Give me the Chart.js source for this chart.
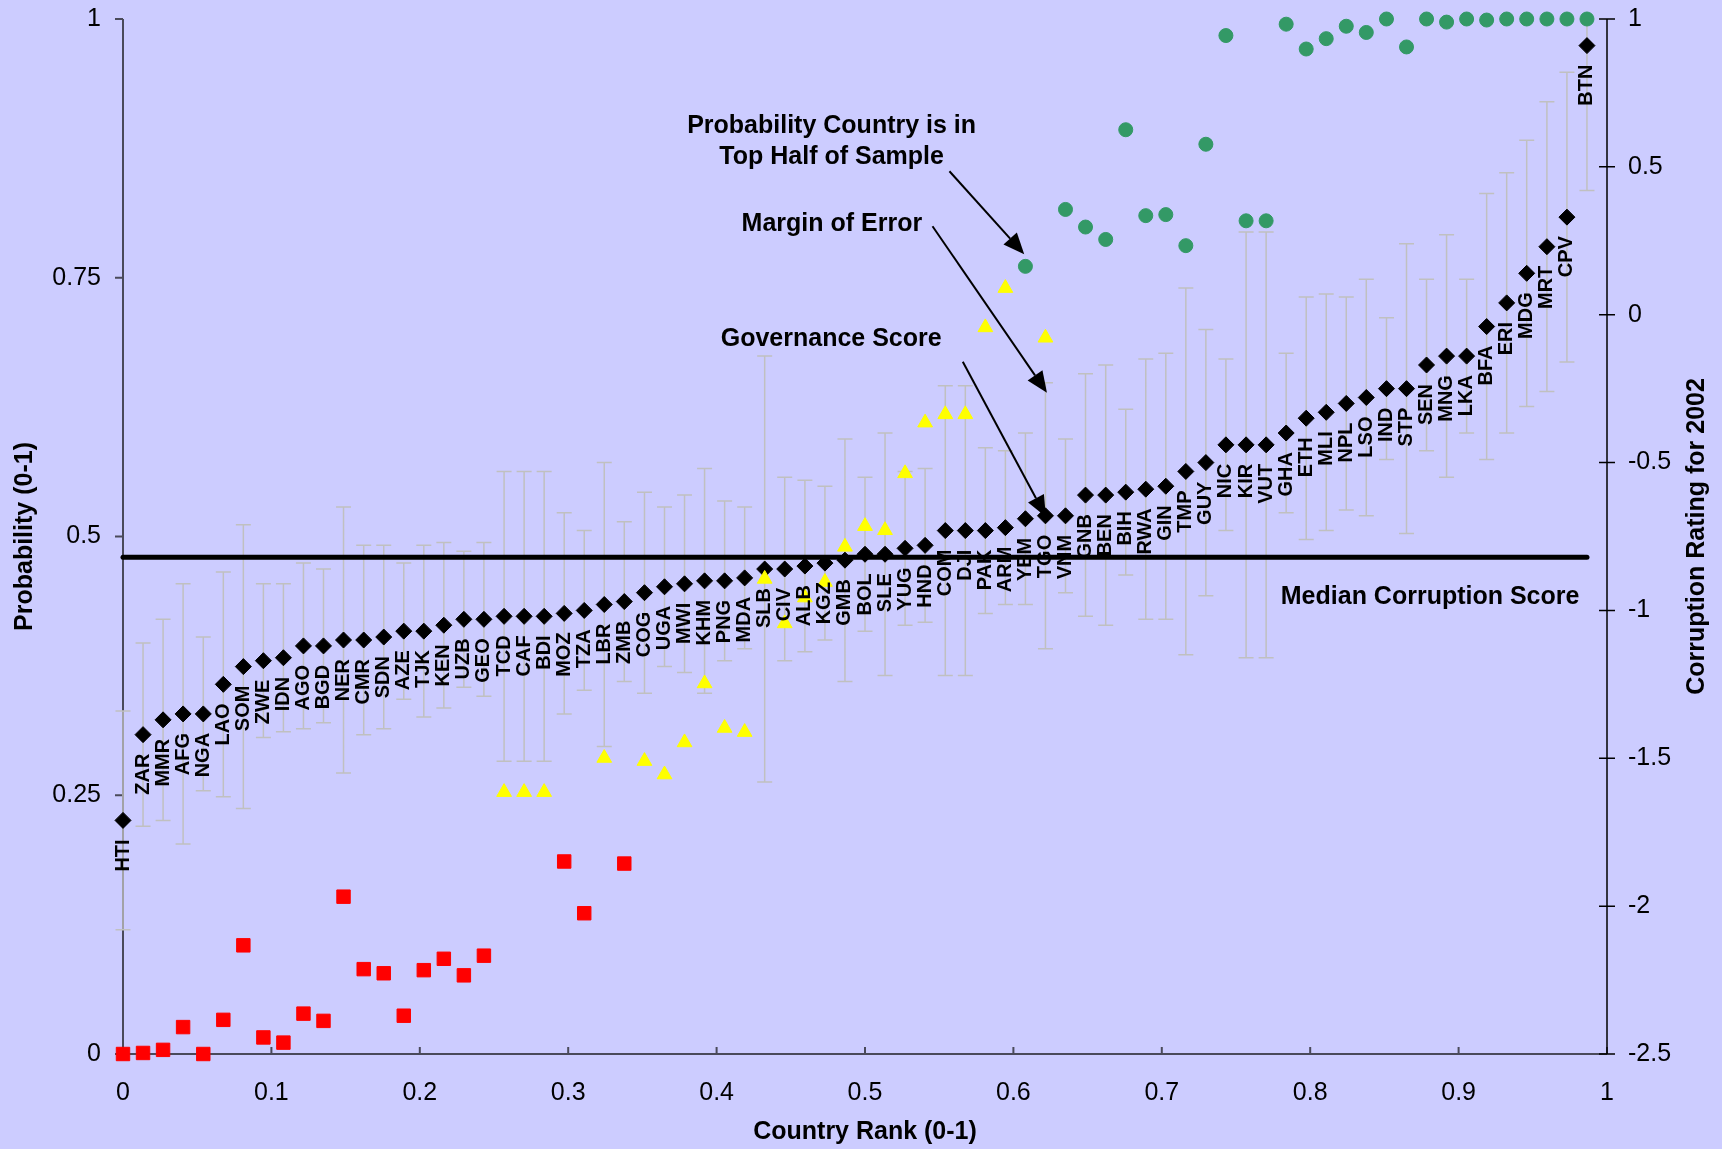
<!DOCTYPE html>
<html>
<head>
<meta charset="utf-8">
<script src="https://cdn.jsdelivr.net/npm/chart.js@4.4.1/dist/chart.umd.min.js"></script>
<style>
  html, body { margin: 0; padding: 0; background: #ccccff; }
  #wrap { width: 1722px; height: 1149px; }
</style>
</head>
<body>
<div id="wrap"><canvas id="chart" width="1722" height="1149"></canvas></div>
<script>
// country codes, ordered by rank
const countries = [
  "HTI", "ZAR", "MMR", "AFG", "NGA", "LAO", "SOM", "ZWE", "IDN", "AGO",
  "BGD", "NER", "CMR", "SDN", "AZE", "TJK", "KEN", "UZB", "GEO", "TCD",
  "CAF", "BDI", "MOZ", "TZA", "LBR", "ZMB", "COG", "UGA", "MWI", "KHM",
  "PNG", "MDA", "SLB", "CIV", "ALB", "KGZ", "GMB", "BOL", "SLE", "YUG",
  "HND", "COM", "DJI", "PAK", "ARM", "YEM", "TGO", "VNM", "GNB", "BEN",
  "BIH", "RWA", "GIN", "TMP", "GUY", "NIC", "KIR", "VUT", "GHA", "ETH",
  "MLI", "NPL", "LSO", "IND", "STP", "SEN", "MNG", "LKA", "BFA", "ERI",
  "MDG", "MRT", "CPV", "BTN"
];

// country rank (0-1)
const rank = [
  0, 0.0135, 0.027, 0.0405, 0.0541, 0.0676, 0.0811, 0.0946, 0.1081, 0.1216,
  0.1351, 0.1486, 0.1622, 0.1757, 0.1892, 0.2027, 0.2162, 0.2297, 0.2432, 0.2568,
  0.2703, 0.2838, 0.2973, 0.3108, 0.3243, 0.3378, 0.3514, 0.3649, 0.3784, 0.3919,
  0.4054, 0.4189, 0.4324, 0.4459, 0.4595, 0.473, 0.4865, 0.5, 0.5135, 0.527,
  0.5405, 0.5541, 0.5676, 0.5811, 0.5946, 0.6081, 0.6216, 0.6351, 0.6486, 0.6622,
  0.6757, 0.6892, 0.7027, 0.7162, 0.7297, 0.7432, 0.7568, 0.7703, 0.7838, 0.7973,
  0.8108, 0.8243, 0.8378, 0.8514, 0.8649, 0.8784, 0.8919, 0.9054, 0.9189, 0.9324,
  0.9459, 0.9595, 0.973, 0.9865
];

// governance score (corruption rating for 2002, right axis)
const governance = [
  -1.71, -1.42, -1.37, -1.35, -1.35, -1.25, -1.19, -1.17, -1.16, -1.12,
  -1.12, -1.10, -1.10, -1.09, -1.07, -1.07, -1.05, -1.03, -1.03, -1.02,
  -1.02, -1.02, -1.01, -1.00, -0.98, -0.97, -0.94, -0.92, -0.91, -0.90,
  -0.90, -0.89, -0.86, -0.86, -0.85, -0.84, -0.83, -0.81, -0.81, -0.79,
  -0.78, -0.73, -0.73, -0.73, -0.72, -0.69, -0.68, -0.68, -0.61, -0.61,
  -0.60, -0.59, -0.58, -0.53, -0.50, -0.44, -0.44, -0.44, -0.40, -0.35,
  -0.33, -0.30, -0.28, -0.25, -0.25, -0.17, -0.14, -0.14, -0.04, 0.04,
  0.14, 0.23, 0.33, 0.91
];

// margin of error (half width, rating units)
const marginOfError = [
  0.37, 0.31, 0.34, 0.44, 0.26, 0.38, 0.48, 0.26, 0.25, 0.28,
  0.26, 0.45, 0.32, 0.31, 0.23, 0.29, 0.28, 0.23, 0.26, 0.49,
  0.49, 0.49, 0.34, 0.27, 0.48, 0.27, 0.34, 0.27, 0.30, 0.38,
  0.27, 0.24, 0.72, 0.31, 0.29, 0.26, 0.41, 0.26, 0.41, 0.26,
  0.26, 0.49, 0.49, 0.28, 0.26, 0.29, 0.45, 0.26, 0.41, 0.44,
  0.28, 0.44, 0.45, 0.62, 0.45, 0.29, 0.72, 0.72, 0.27, 0.41,
  0.40, 0.36, 0.40, 0.24, 0.49, 0.29, 0.41, 0.26, 0.45, 0.44,
  0.45, 0.49, 0.49, 0.49
];

// probability country is in top half of sample (left axis)
const probTopHalf = [
  0, 0.001, 0.004, 0.026, 0, 0.033, 0.105, 0.016, 0.011, 0.039,
  0.032, 0.152, 0.082, 0.078, 0.037, 0.081, 0.092, 0.076, 0.095, 0.253,
  0.253, 0.253, 0.186, 0.136, 0.286, 0.184, 0.283, 0.270, 0.301, 0.358,
  0.315, 0.311, 0.459, 0.416, 0.441, 0.456, 0.490, 0.510, 0.506, 0.561,
  0.610, 0.618, 0.618, 0.702, 0.740, 0.761, 0.692, 0.816, 0.799, 0.787,
  0.893, 0.810, 0.811, 0.781, 0.879, 0.984, 0.805, 0.805, 0.995, 0.971,
  0.981, 0.993, 0.987, 1.0, 0.973, 1.0, 0.997, 1.0, 0.999, 1.0,
  1.0, 1.0, 1.0, 1.0
];

const medianScore = -0.82;

// tick labels
const rankTicks = [0, 0.1, 0.2, 0.3, 0.4, 0.5, 0.6, 0.7, 0.8, 0.9, 1];
const probTicks = [0, 0.25, 0.5, 0.75, 1];
const ratingTicks = [-2.5, -2, -1.5, -1, -0.5, 0, 0.5, 1];

// annotation placement (data units: rank, probability)
const notes = [
  { lines: ["Probability Country is in", "Top Half of Sample"], x: 0.4775, y: 0.8963 },
  { lines: ["Margin of Error"], x: 0.4777, y: 0.8017 },
  { lines: ["Governance Score"], x: 0.4772, y: 0.6904 },
  { lines: ["Median Corruption Score"], x: 0.8808, y: 0.4413 }
];
const arrows = [
  { from: [0.5569, 0.8529], to: [0.6073, 0.7728] },
  { from: [0.5455, 0.7998], to: [0.6226, 0.6389] },
  { from: [0.5659, 0.6688], to: [0.6219, 0.5191] }
];

const FONT = "'Liberation Sans', Arial, Helvetica, sans-serif";
Chart.defaults.font.family = FONT;
Chart.defaults.color = "#000";

const pts = (test) => probTopHalf
  .map((p, i) => ({ x: rank[i], y: p }))
  .filter(d => test(d.y));

const background = {
  id: "background",
  beforeDraw(chart) {
    const { ctx, width, height } = chart;
    ctx.save();
    ctx.fillStyle = "#ccccff";
    ctx.fillRect(0, 0, width, height);
    ctx.restore();
  }
};

// axis lines, tick marks and error bars, under the markers
const frame = {
  id: "frame",
  beforeDatasetsDraw(chart) {
    const { ctx, chartArea: a, scales: { x, y, y2 } } = chart;
    ctx.save();

    ctx.strokeStyle = "#4a4a5a";
    ctx.lineWidth = 2;
    ctx.beginPath();
    ctx.moveTo(a.left, a.top); ctx.lineTo(a.left, a.bottom); ctx.lineTo(a.right, a.bottom);
    probTicks.forEach(v => {
      const py = y.getPixelForValue(v);
      ctx.moveTo(a.left - 8, py); ctx.lineTo(a.left, py);
    });
    rankTicks.forEach(v => {
      const px = x.getPixelForValue(v);
      ctx.moveTo(px, a.bottom); ctx.lineTo(px, a.bottom - 7);
    });
    ctx.stroke();

    ctx.strokeStyle = "#000";
    ctx.lineWidth = 1.5;
    ctx.beginPath();
    ctx.moveTo(a.right, a.top); ctx.lineTo(a.right, a.bottom);
    ratingTicks.forEach(v => {
      const py = y2.getPixelForValue(v);
      ctx.moveTo(a.right - 8, py); ctx.lineTo(a.right + 8, py);
    });
    ctx.stroke();

    ctx.strokeStyle = "#c0c0c0";
    ctx.lineWidth = 1.5;
    ctx.beginPath();
    governance.forEach((g, i) => {
      const px = x.getPixelForValue(rank[i]);
      const hi = g + marginOfError[i];
      const lo = g - marginOfError[i];
      const top = y2.getPixelForValue(Math.min(hi, y2.max));
      const bot = y2.getPixelForValue(Math.max(lo, y2.min));
      ctx.moveTo(px, top); ctx.lineTo(px, bot);
      if (hi <= y2.max) { ctx.moveTo(px - 7.5, top); ctx.lineTo(px + 7.5, top); }
      ctx.moveTo(px - 7.5, bot); ctx.lineTo(px + 7.5, bot);
    });
    ctx.stroke();
    ctx.restore();
  }
};

// country codes, notes, arrows and the right axis title
const overlay = {
  id: "overlay",
  afterDatasetsDraw(chart) {
    const { ctx, chartArea: a, scales: { x, y, y2 } } = chart;
    ctx.save();
    ctx.fillStyle = "#000";

    ctx.font = "bold 20px " + FONT;
    ctx.textAlign = "right";
    ctx.textBaseline = "middle";
    countries.forEach((c, i) => {
      const px = x.getPixelForValue(rank[i]);
      const py = y2.getPixelForValue(governance[i]);
      ctx.save();
      ctx.translate(px, py + 19);
      ctx.rotate(-Math.PI / 2);
      ctx.fillText(c, 0, 0);
      ctx.restore();
    });

    ctx.font = "bold 25px " + FONT;
    ctx.textAlign = "center";
    notes.forEach(n => {
      const px = x.getPixelForValue(n.x);
      const py = y.getPixelForValue(n.y);
      n.lines.forEach((t, k) => ctx.fillText(t, px, py + k * 31));
    });

    ctx.strokeStyle = "#000";
    ctx.lineWidth = 2;
    arrows.forEach(ar => {
      const x0 = x.getPixelForValue(ar.from[0]), y0 = y.getPixelForValue(ar.from[1]);
      const x1 = x.getPixelForValue(ar.to[0]), y1 = y.getPixelForValue(ar.to[1]);
      const ang = Math.atan2(y1 - y0, x1 - x0);
      const len = 21, half = 9;
      const bx = x1 - len * Math.cos(ang), by = y1 - len * Math.sin(ang);
      ctx.beginPath();
      ctx.moveTo(x0, y0); ctx.lineTo(bx, by);
      ctx.stroke();
      ctx.beginPath();
      ctx.moveTo(x1, y1);
      ctx.lineTo(bx + half * Math.sin(ang), by - half * Math.cos(ang));
      ctx.lineTo(bx - half * Math.sin(ang), by + half * Math.cos(ang));
      ctx.closePath();
      ctx.fill();
    });

    ctx.save();
    ctx.translate(chart.width - 25, (a.top + a.bottom) / 2);
    ctx.rotate(-Math.PI / 2);
    ctx.fillText("Corruption Rating for 2002", 0, 0);
    ctx.restore();

    ctx.restore();
  }
};

const fmt = v => String(+Number(v).toFixed(2));

// fixed box sizes so the plot area sits where the reference has it
const fixV = w => s => { s.width = w; s.paddingTop = 0; s.paddingBottom = 0; };
const fixH = h => s => { s.height = h; s.paddingLeft = 0; s.paddingRight = 0; };

new Chart(document.getElementById("chart"), {
  type: "scatter",
  data: {
    datasets: [
      {
        label: "Median Corruption Score",
        data: [{ x: rank[0], y: medianScore }, { x: rank[rank.length - 1], y: medianScore }],
        yAxisID: "y2",
        showLine: true,
        borderColor: "#000",
        borderWidth: 5,
        borderCapStyle: "round",
        pointRadius: 0,
        clip: false,
        order: 5
      },
      {
        label: "Governance Score",
        data: rank.map((r, i) => ({ x: r, y: governance[i] })),
        yAxisID: "y2",
        pointStyle: "rectRot",
        pointRadius: 8,
        borderWidth: 1,
        backgroundColor: "#000",
        borderColor: "#000",
        clip: false,
        order: 4
      },
      {
        label: "Low probability",
        data: pts(p => p < 0.25),
        yAxisID: "y",
        pointStyle: "rect",
        pointRadius: 9.5,
        borderWidth: 1,
        backgroundColor: "#ff0000",
        borderColor: "#ff0000",
        clip: false,
        order: 3
      },
      {
        label: "Middle probability",
        data: pts(p => p >= 0.25 && p < 0.75),
        yAxisID: "y",
        pointStyle: "triangle",
        pointRadius: 8.5,
        borderWidth: 1,
        backgroundColor: "#ffff00",
        borderColor: "#ffff00",
        clip: false,
        order: 2
      },
      {
        label: "High probability",
        data: pts(p => p >= 0.75),
        yAxisID: "y",
        pointStyle: "circle",
        pointRadius: 7,
        borderWidth: 1,
        backgroundColor: "#339966",
        borderColor: "#339966",
        clip: false,
        order: 1
      }
    ]
  },
  options: {
    responsive: false,
    animation: false,
    devicePixelRatio: 1,
    layout: { padding: { top: 19, left: 0, right: 0, bottom: 0 } },
    scales: {
      x: {
        type: "linear",
        position: "bottom",
        min: 0,
        max: 1,
        afterFit: fixH(95),
        afterBuildTicks: s => { s.ticks = rankTicks.map(v => ({ value: v })); },
        grid: { display: false },
        border: { display: false },
        ticks: { font: { size: 25 }, padding: 16, maxRotation: 0, autoSkip: false, callback: fmt },
        title: {
          display: true,
          text: "Country Rank (0-1)",
          font: { size: 25, weight: "bold" },
          padding: { top: 0, bottom: 2 }
        }
      },
      y: {
        type: "linear",
        position: "left",
        min: 0,
        max: 1,
        afterFit: fixV(123),
        afterBuildTicks: s => { s.ticks = probTicks.map(v => ({ value: v })); },
        grid: { display: false },
        border: { display: false },
        ticks: { font: { size: 25 }, padding: 14, callback: fmt },
        title: {
          display: true,
          text: "Probability (0-1)",
          font: { size: 25, weight: "bold" },
          padding: { top: 10, bottom: 0 }
        }
      },
      y2: {
        type: "linear",
        position: "right",
        min: -2.5,
        max: 1,
        afterFit: fixV(115),
        afterBuildTicks: s => { s.ticks = ratingTicks.map(v => ({ value: v })); },
        grid: { display: false },
        border: { display: false },
        ticks: { font: { size: 25 }, padding: 13, callback: fmt }
      }
    },
    plugins: {
      legend: { display: false },
      tooltip: { enabled: false }
    }
  },
  plugins: [background, frame, overlay]
});
</script>
</body>
</html>
